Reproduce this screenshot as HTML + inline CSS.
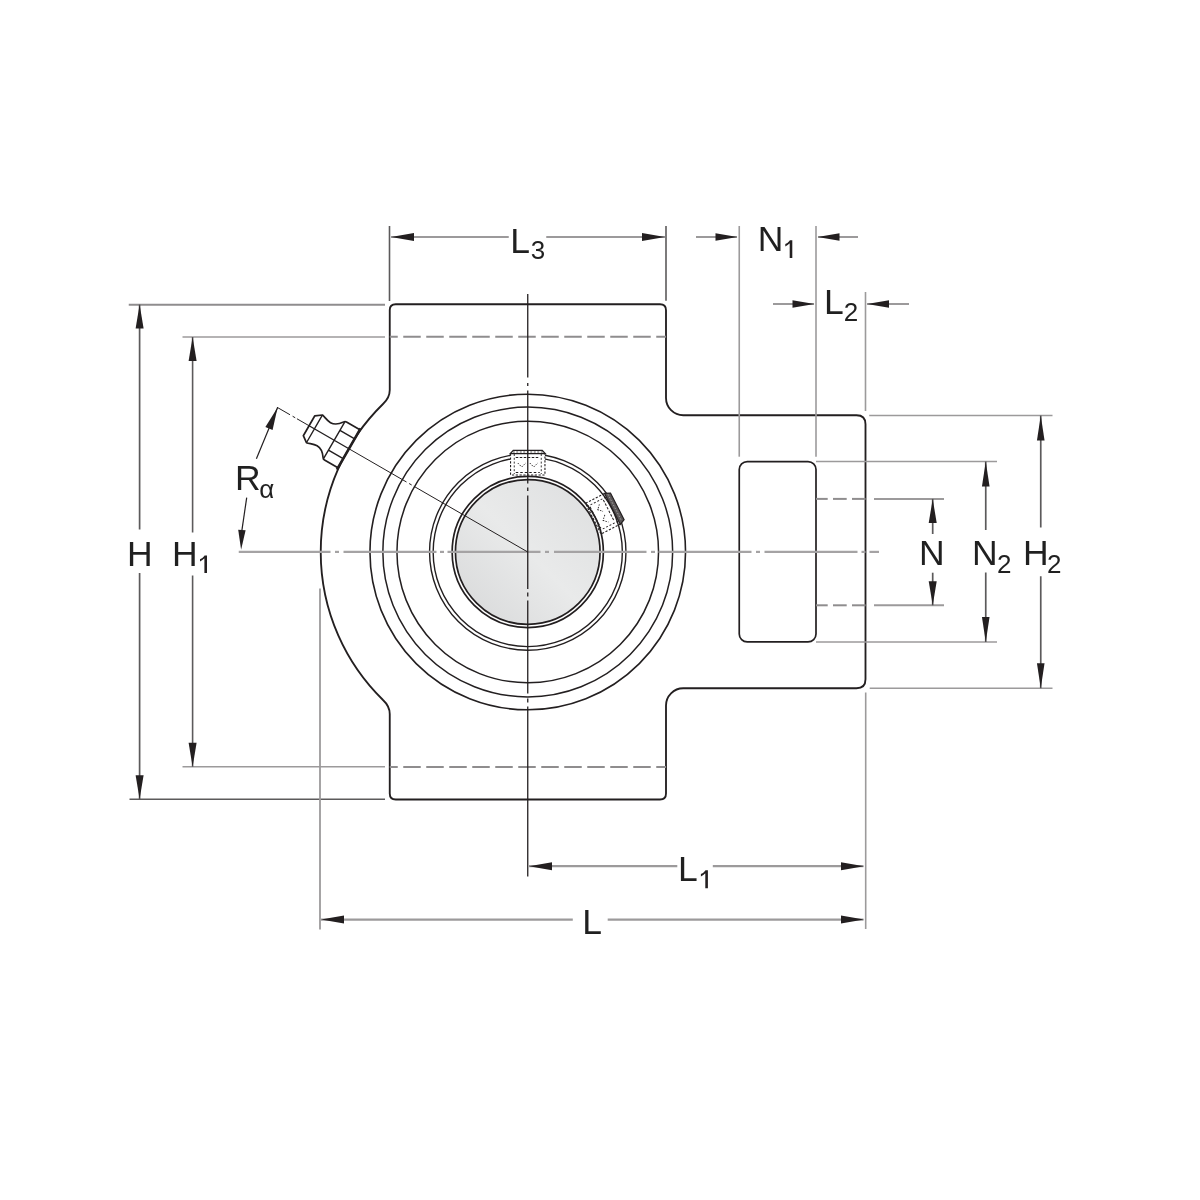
<!DOCTYPE html>
<html><head><meta charset="utf-8"><style>
html,body{margin:0;padding:0;background:#fff;width:1200px;height:1200px;overflow:hidden}
svg{display:block}
text{font-family:"Liberation Sans",sans-serif;fill:#231f20;filter:grayscale(1)}
</style></head><body>
<svg width="1200" height="1200" viewBox="0 0 1200 1200">
<rect width="1200" height="1200" fill="#fff"/>
<path d="M389.75,390 L389.75,310 Q389.75,304.25 395.75,304.25 L660,304.25 Q666,304.25 666,310.25 L666,398 A17.25,17.25 0 0 0 683.25,415.25 L856.5,415.25 Q865.5,415.25 865.5,424.25 L865.5,679.25 Q865.5,688.25 856.5,688.25 L683.25,688.25 A17.25,17.25 0 0 0 666,705.5 L666,793.5 Q666,799.5 660,799.5 L395.75,799.5 Q389.75,799.5 389.75,793.5 L389.75,714 Q389.75,706.3 383,700 A207,207 0 0 1 383,404 Q389.75,397.7 389.75,390 Z" fill="none" stroke="#231f20" stroke-width="1.85"/>
<rect x="739.25" y="461.6" width="76.75" height="180.3" rx="8" fill="none" stroke="#231f20" stroke-width="1.7"/>
<line x1="389.75" y1="336.8" x2="666" y2="336.8" stroke="#8f8d8e" stroke-width="2" stroke-dasharray="17.5 5.5" stroke-dashoffset="9.5"/>
<line x1="389.75" y1="767" x2="666" y2="767" stroke="#8f8d8e" stroke-width="2" stroke-dasharray="17.5 5.5" stroke-dashoffset="9.5"/>
<line x1="816" y1="498.9" x2="827.7" y2="498.9" stroke="#8f8d8e" stroke-width="2" />
<line x1="833" y1="498.9" x2="846.7" y2="498.9" stroke="#8f8d8e" stroke-width="2" />
<line x1="852" y1="498.9" x2="865.6" y2="498.9" stroke="#8f8d8e" stroke-width="2" />
<line x1="874" y1="498.9" x2="944" y2="498.9" stroke="#9c9a9b" stroke-width="2" />
<line x1="816" y1="605.3" x2="827.7" y2="605.3" stroke="#8f8d8e" stroke-width="2" />
<line x1="833" y1="605.3" x2="846.7" y2="605.3" stroke="#8f8d8e" stroke-width="2" />
<line x1="852" y1="605.3" x2="865.6" y2="605.3" stroke="#8f8d8e" stroke-width="2" />
<line x1="874" y1="605.3" x2="944" y2="605.3" stroke="#9c9a9b" stroke-width="2" />
<defs><linearGradient id="sg" x1="0" y1="1" x2="1" y2="0"><stop offset="0" stop-color="#d6d7d8"/><stop offset="0.5" stop-color="#e9eaea"/><stop offset="1" stop-color="#dddedf"/></linearGradient></defs>
<circle cx="527.75" cy="552.0" r="72.5" fill="url(#sg)"/>
<circle cx="527.75" cy="552.0" r="157.8" fill="none" stroke="#231f20" stroke-width="1.6"/>
<circle cx="527.75" cy="552.0" r="144.9" fill="none" stroke="#231f20" stroke-width="1.5"/>
<circle cx="527.75" cy="552.0" r="130.8" fill="none" stroke="#231f20" stroke-width="1.5"/>
<circle cx="527.75" cy="552.0" r="98.2" fill="none" stroke="#231f20" stroke-width="1.4"/>
<circle cx="527.75" cy="552.0" r="94.6" fill="none" stroke="#231f20" stroke-width="1.4"/>
<circle cx="527.75" cy="552.0" r="75.6" fill="none" stroke="#231f20" stroke-width="1.7"/>
<circle cx="527.75" cy="552.0" r="72.3" fill="none" stroke="#231f20" stroke-width="1.7"/>
<g transform="rotate(0 527.75 552.0)">
<path d="M510.55,453.6 L510.55,475 L544.95,475 L544.95,453.6" fill="#fff" stroke="#231f20" stroke-width="1.1" stroke-dasharray="2.2 1.6"/>
<line x1="514.25" y1="454" x2="514.25" y2="474" stroke="#231f20" stroke-width="0.9" stroke-dasharray="2 1.8"/>
<line x1="541.25" y1="454" x2="541.25" y2="474" stroke="#231f20" stroke-width="0.9" stroke-dasharray="2 1.8"/>
<line x1="515.75" y1="457.5" x2="539.75" y2="457.5" stroke="#231f20" stroke-width="1" stroke-dasharray="2.5 1.5"/>
<path d="M517.75,463 L521.75,467 L525.75,463 M529.75,463 L533.75,467 L537.75,463" fill="none" stroke="#231f20" stroke-width="0.9" stroke-dasharray="1.5 1.2"/>
<line x1="515.75" y1="472.5" x2="539.75" y2="472.5" stroke="#231f20" stroke-width="1" stroke-dasharray="2.5 2"/>
<path d="M510.25,453.6 L513.25,450.3 L542.25,450.3 L545.25,453.6 Z" fill="#fff" stroke="#231f20" stroke-width="1.3"/>
<line x1="512.75" y1="452" x2="542.75" y2="452" stroke="#231f20" stroke-width="0.8" stroke-dasharray="2 1.5"/>
</g>
<g transform="rotate(63 527.75 552.0)">
<path d="M510.55,457.1 L510.55,478.5 L544.95,478.5 L544.95,457.1" fill="none" stroke="#231f20" stroke-width="1.1" stroke-dasharray="2.2 1.6"/>
<line x1="514.25" y1="457.5" x2="514.25" y2="477.5" stroke="#231f20" stroke-width="0.9" stroke-dasharray="2 1.8"/>
<line x1="541.25" y1="457.5" x2="541.25" y2="477.5" stroke="#231f20" stroke-width="0.9" stroke-dasharray="2 1.8"/>
<line x1="515.75" y1="461" x2="539.75" y2="461" stroke="#231f20" stroke-width="1" stroke-dasharray="2.5 1.5"/>
<path d="M517.75,466.5 L521.75,470.5 L525.75,466.5 M529.75,466.5 L533.75,470.5 L537.75,466.5" fill="none" stroke="#231f20" stroke-width="0.9" stroke-dasharray="1.5 1.2"/>
<line x1="515.75" y1="476" x2="539.75" y2="476" stroke="#231f20" stroke-width="1" stroke-dasharray="2.5 2"/>
<path d="M510.25,457 L512.75,451.5 L542.75,451.5 L545.25,457 Z" fill="#5a5657" stroke="#231f20" stroke-width="1.2"/>
<line x1="512.75" y1="454.3" x2="542.75" y2="454.3" stroke="#aaa" stroke-width="0.8" stroke-dasharray="1.5 1.5"/>
</g>
<line x1="238.75" y1="551.9" x2="330.5" y2="551.9" stroke="#a5a3a4" stroke-width="2.2" />
<line x1="335" y1="551.9" x2="339" y2="551.9" stroke="#a5a3a4" stroke-width="2.2" />
<line x1="343.5" y1="551.9" x2="436.5" y2="551.9" stroke="#a5a3a4" stroke-width="2.2" />
<line x1="440" y1="551.9" x2="444" y2="551.9" stroke="#a5a3a4" stroke-width="2.2" />
<line x1="447.5" y1="551.9" x2="540.5" y2="551.9" stroke="#a5a3a4" stroke-width="2.2" />
<line x1="545" y1="551.9" x2="549" y2="551.9" stroke="#a5a3a4" stroke-width="2.2" />
<line x1="554" y1="551.9" x2="646.5" y2="551.9" stroke="#a5a3a4" stroke-width="2.2" />
<line x1="651" y1="551.9" x2="655" y2="551.9" stroke="#a5a3a4" stroke-width="2.2" />
<line x1="658.5" y1="551.9" x2="751.5" y2="551.9" stroke="#a5a3a4" stroke-width="2.2" />
<line x1="756" y1="551.9" x2="760" y2="551.9" stroke="#a5a3a4" stroke-width="2.2" />
<line x1="764.5" y1="551.9" x2="857.5" y2="551.9" stroke="#a5a3a4" stroke-width="2.2" />
<line x1="861.5" y1="551.9" x2="865.5" y2="551.9" stroke="#a5a3a4" stroke-width="2.2" />
<line x1="869.5" y1="551.9" x2="879" y2="551.9" stroke="#a5a3a4" stroke-width="2.2" />
<line x1="527.75" y1="294" x2="527.75" y2="377.5" stroke="#231f20" stroke-width="1.3" />
<line x1="527.75" y1="383" x2="527.75" y2="386" stroke="#231f20" stroke-width="1.3" />
<line x1="527.75" y1="390.5" x2="527.75" y2="483.5" stroke="#231f20" stroke-width="1.3" />
<line x1="527.75" y1="487.5" x2="527.75" y2="491" stroke="#231f20" stroke-width="1.3" />
<line x1="527.75" y1="495.5" x2="527.75" y2="589" stroke="#231f20" stroke-width="1.3" />
<line x1="527.75" y1="592.5" x2="527.75" y2="596.5" stroke="#231f20" stroke-width="1.3" />
<line x1="527.75" y1="600.5" x2="527.75" y2="693.5" stroke="#231f20" stroke-width="1.3" />
<line x1="527.75" y1="698.5" x2="527.75" y2="702.5" stroke="#231f20" stroke-width="1.3" />
<line x1="527.75" y1="706.5" x2="527.75" y2="876.5" stroke="#231f20" stroke-width="1.3" />
<line x1="527.75" y1="552" x2="413.87" y2="486.25" stroke="#231f20" stroke-width="1" />
<line x1="411.7" y1="485" x2="409.1" y2="483.5" stroke="#231f20" stroke-width="1" />
<line x1="406.51" y1="482" x2="296.95" y2="418.75" stroke="#231f20" stroke-width="1" />
<line x1="295.22" y1="417.75" x2="292.62" y2="416.25" stroke="#231f20" stroke-width="1" />
<line x1="290.03" y1="414.75" x2="277.04" y2="407.25" stroke="#231f20" stroke-width="1" />
<g transform="translate(527.75,552.0) rotate(210)" fill="#fff" stroke="#231f20" stroke-width="1.7" stroke-linejoin="round">
<path d="M206.5,22 L222,22 Q223.7,22 224.5,20.5 C228,15.5 231.5,13.4 235.5,13.4 C240,13.4 243,15.5 246.3,16 L252.5,11.5 L252.5,-11.5 L246.3,-16 C243,-15.5 240,-13.4 235.5,-13.4 C231.5,-13.4 228,-15.5 224.5,-20.5 Q223.7,-22 222,-22 L206.5,-22 Z"/>
<path d="M223.5,-21 L223.5,21 M206.5,11.5 L223.5,11.5 M206.5,-11.5 L223.5,-11.5 M246.3,-15.5 L246.3,15.5 M206.5,0 L252.5,0" fill="none" stroke-width="1.4"/>
<line x1="206.5" y1="-24" x2="206.5" y2="23.5" stroke-width="2.6"/>
</g>
<line x1="277.6" y1="407.6" x2="256.4" y2="458.7" stroke="#231f20" stroke-width="1.2" />
<polygon points="277.6,407.6 272.58,429.88 265.38,426.89" fill="#231f20"/>
<line x1="246.7" y1="497.6" x2="241.9" y2="530.3" stroke="#231f20" stroke-width="1.2" />
<polygon points="241.1,549.8 238.21,529.86 245.61,530.17" fill="#231f20"/>
<line x1="128.75" y1="304.8" x2="385" y2="304.8" stroke="#8f8d8e" stroke-width="1.9" />
<line x1="129.5" y1="799.2" x2="385" y2="799.2" stroke="#5c5a5b" stroke-width="1.6" />
<line x1="139.6" y1="304.6" x2="139.6" y2="529.5" stroke="#5c5a5b" stroke-width="1.7" />
<line x1="139.6" y1="573" x2="139.6" y2="799.2" stroke="#5c5a5b" stroke-width="1.7" />
<polygon points="139.6,304.4 143.6,328.4 135.6,328.4" fill="#231f20"/>
<polygon points="139.6,799.2 135.6,775.2 143.6,775.2" fill="#231f20"/>
<line x1="182.5" y1="337" x2="385" y2="337" stroke="#9c9a9b" stroke-width="1.6" />
<line x1="182.5" y1="766.8" x2="385" y2="766.8" stroke="#9c9a9b" stroke-width="1.6" />
<line x1="192.6" y1="337" x2="192.6" y2="532.5" stroke="#5c5a5b" stroke-width="1.6" />
<line x1="192.6" y1="575.5" x2="192.6" y2="766.8" stroke="#5c5a5b" stroke-width="1.6" />
<polygon points="192.6,337 196.6,361 188.6,361" fill="#231f20"/>
<polygon points="192.6,766.8 188.6,742.8 196.6,742.8" fill="#231f20"/>
<line x1="389.5" y1="226" x2="389.5" y2="301" stroke="#5c5a5b" stroke-width="1.6" />
<line x1="666" y1="226" x2="666" y2="300.7" stroke="#5c5a5b" stroke-width="1.6" />
<line x1="391" y1="237" x2="508.75" y2="237" stroke="#9c9a9b" stroke-width="2" />
<line x1="546.25" y1="237" x2="665" y2="237" stroke="#9c9a9b" stroke-width="2" />
<polygon points="391,237 414,233 414,241" fill="#231f20"/>
<polygon points="665,237 642,241 642,233" fill="#231f20"/>
<line x1="739.25" y1="226" x2="739.25" y2="456.7" stroke="#9c9a9b" stroke-width="1.6" />
<line x1="816" y1="226" x2="816" y2="456.7" stroke="#9c9a9b" stroke-width="1.6" />
<line x1="696" y1="237" x2="737" y2="237" stroke="#9c9a9b" stroke-width="2" />
<polygon points="737.5,237 715.5,240.8 715.5,233.2" fill="#231f20"/>
<line x1="818" y1="237" x2="858" y2="237" stroke="#9c9a9b" stroke-width="2" />
<polygon points="817.5,237 839.5,233.2 839.5,240.8" fill="#231f20"/>
<line x1="865.5" y1="292" x2="865.5" y2="411" stroke="#9c9a9b" stroke-width="1.6" />
<line x1="773" y1="304" x2="814" y2="304" stroke="#9c9a9b" stroke-width="2" />
<polygon points="814.5,304 792.5,307.8 792.5,300.2" fill="#231f20"/>
<line x1="867" y1="304" x2="909" y2="304" stroke="#9c9a9b" stroke-width="2" />
<polygon points="867,304 889,300.2 889,307.8" fill="#231f20"/>
<line x1="869.2" y1="415.5" x2="1052.5" y2="415.5" stroke="#9c9a9b" stroke-width="1.6" />
<line x1="869.7" y1="688.2" x2="1052.5" y2="688.2" stroke="#9c9a9b" stroke-width="1.6" />
<line x1="1040.75" y1="415.5" x2="1040.75" y2="527.5" stroke="#5c5a5b" stroke-width="1.7" />
<line x1="1040.75" y1="576.25" x2="1040.75" y2="688.2" stroke="#5c5a5b" stroke-width="1.7" />
<polygon points="1040.75,415.5 1044.55,440.5 1036.95,440.5" fill="#231f20"/>
<polygon points="1040.75,688.2 1036.95,663.2 1044.55,663.2" fill="#231f20"/>
<line x1="816" y1="461.5" x2="997" y2="461.5" stroke="#9c9a9b" stroke-width="1.6" />
<line x1="816" y1="642" x2="997" y2="642" stroke="#9c9a9b" stroke-width="1.6" />
<line x1="985.75" y1="461.5" x2="985.75" y2="530" stroke="#5c5a5b" stroke-width="1.7" />
<line x1="985.75" y1="572.5" x2="985.75" y2="642" stroke="#5c5a5b" stroke-width="1.7" />
<polygon points="985.75,461.5 989.55,486.5 981.95,486.5" fill="#231f20"/>
<polygon points="985.75,642 981.95,617 989.55,617" fill="#231f20"/>
<line x1="932.7" y1="498.9" x2="932.7" y2="534" stroke="#5c5a5b" stroke-width="1.7" />
<line x1="932.7" y1="572.7" x2="932.7" y2="605.3" stroke="#5c5a5b" stroke-width="1.7" />
<polygon points="932.7,498.9 936.7,522.9 928.7,522.9" fill="#231f20"/>
<polygon points="932.7,605.3 928.7,581.3 936.7,581.3" fill="#231f20"/>
<line x1="529" y1="866.2" x2="677.3" y2="866.2" stroke="#9c9a9b" stroke-width="2.3" />
<line x1="712.8" y1="866.2" x2="863.5" y2="866.2" stroke="#9c9a9b" stroke-width="2.3" />
<polygon points="529,866.2 552,862.2 552,870.2" fill="#231f20"/>
<polygon points="864,866.2 841,870.2 841,862.2" fill="#231f20"/>
<line x1="321" y1="919.6" x2="572.8" y2="919.6" stroke="#9c9a9b" stroke-width="2.3" />
<line x1="607.7" y1="919.6" x2="863.5" y2="919.6" stroke="#9c9a9b" stroke-width="2.3" />
<polygon points="321,919.6 344,915.6 344,923.6" fill="#231f20"/>
<polygon points="864,919.6 841,923.6 841,915.6" fill="#231f20"/>
<line x1="320" y1="588.5" x2="320" y2="929.5" stroke="#9c9a9b" stroke-width="1.8" />
<line x1="865.7" y1="692.5" x2="865.7" y2="929" stroke="#9c9a9b" stroke-width="1.6" />
<text x="510.34" y="252.75" font-size="35.5">L</text>
<text x="530.81" y="259.05" font-size="26">3</text>
<text x="757.79" y="251.2" font-size="35.5">N</text>
<path d="M789.7,240.3 L792.3,240.3 L792.3,258.1 L789.7,258.1 Z M790.1,240.3 L789.7,243.2 Q787.9,245 785.3,246.4 L785.3,244.1 Q788.1,242.9 790.1,240.3 Z" fill="#231f20"/>
<text x="823.89" y="314.3" font-size="35.5">L</text>
<text x="843.69" y="321.2" font-size="26">2</text>
<text x="126.99" y="565.7" font-size="35.5">H</text>
<text x="172.09" y="566" font-size="35.5">H</text>
<path d="M204.4,555.4 L207,555.4 L207,572.9 L204.4,572.9 Z M204.8,555.4 L204.4,558.3 Q202.6,560.1 200,561.5 L200,559.2 Q202.8,558 204.8,555.4 Z" fill="#231f20"/>
<text x="235.09" y="490.4" font-size="35.5">R</text>
<text x="259.31" y="498.45" font-size="26">α</text>
<text x="919.09" y="565.3" font-size="35.5">N</text>
<text x="972.09" y="565.4" font-size="35.5">N</text>
<text x="996.99" y="572.5" font-size="26">2</text>
<text x="1022.89" y="565.4" font-size="35.5">H</text>
<text x="1046.89" y="572.6" font-size="26">2</text>
<text x="678.09" y="881" font-size="35.5">L</text>
<path d="M705.3,870.3 L707.9,870.3 L707.9,888.3 L705.3,888.3 Z M705.7,870.3 L705.3,873.2 Q703.5,875 700.9,876.4 L700.9,874.1 Q703.7,872.9 705.7,870.3 Z" fill="#231f20"/>
<text x="582.19" y="934.3" font-size="35.5">L</text>
</svg>
</body></html>
